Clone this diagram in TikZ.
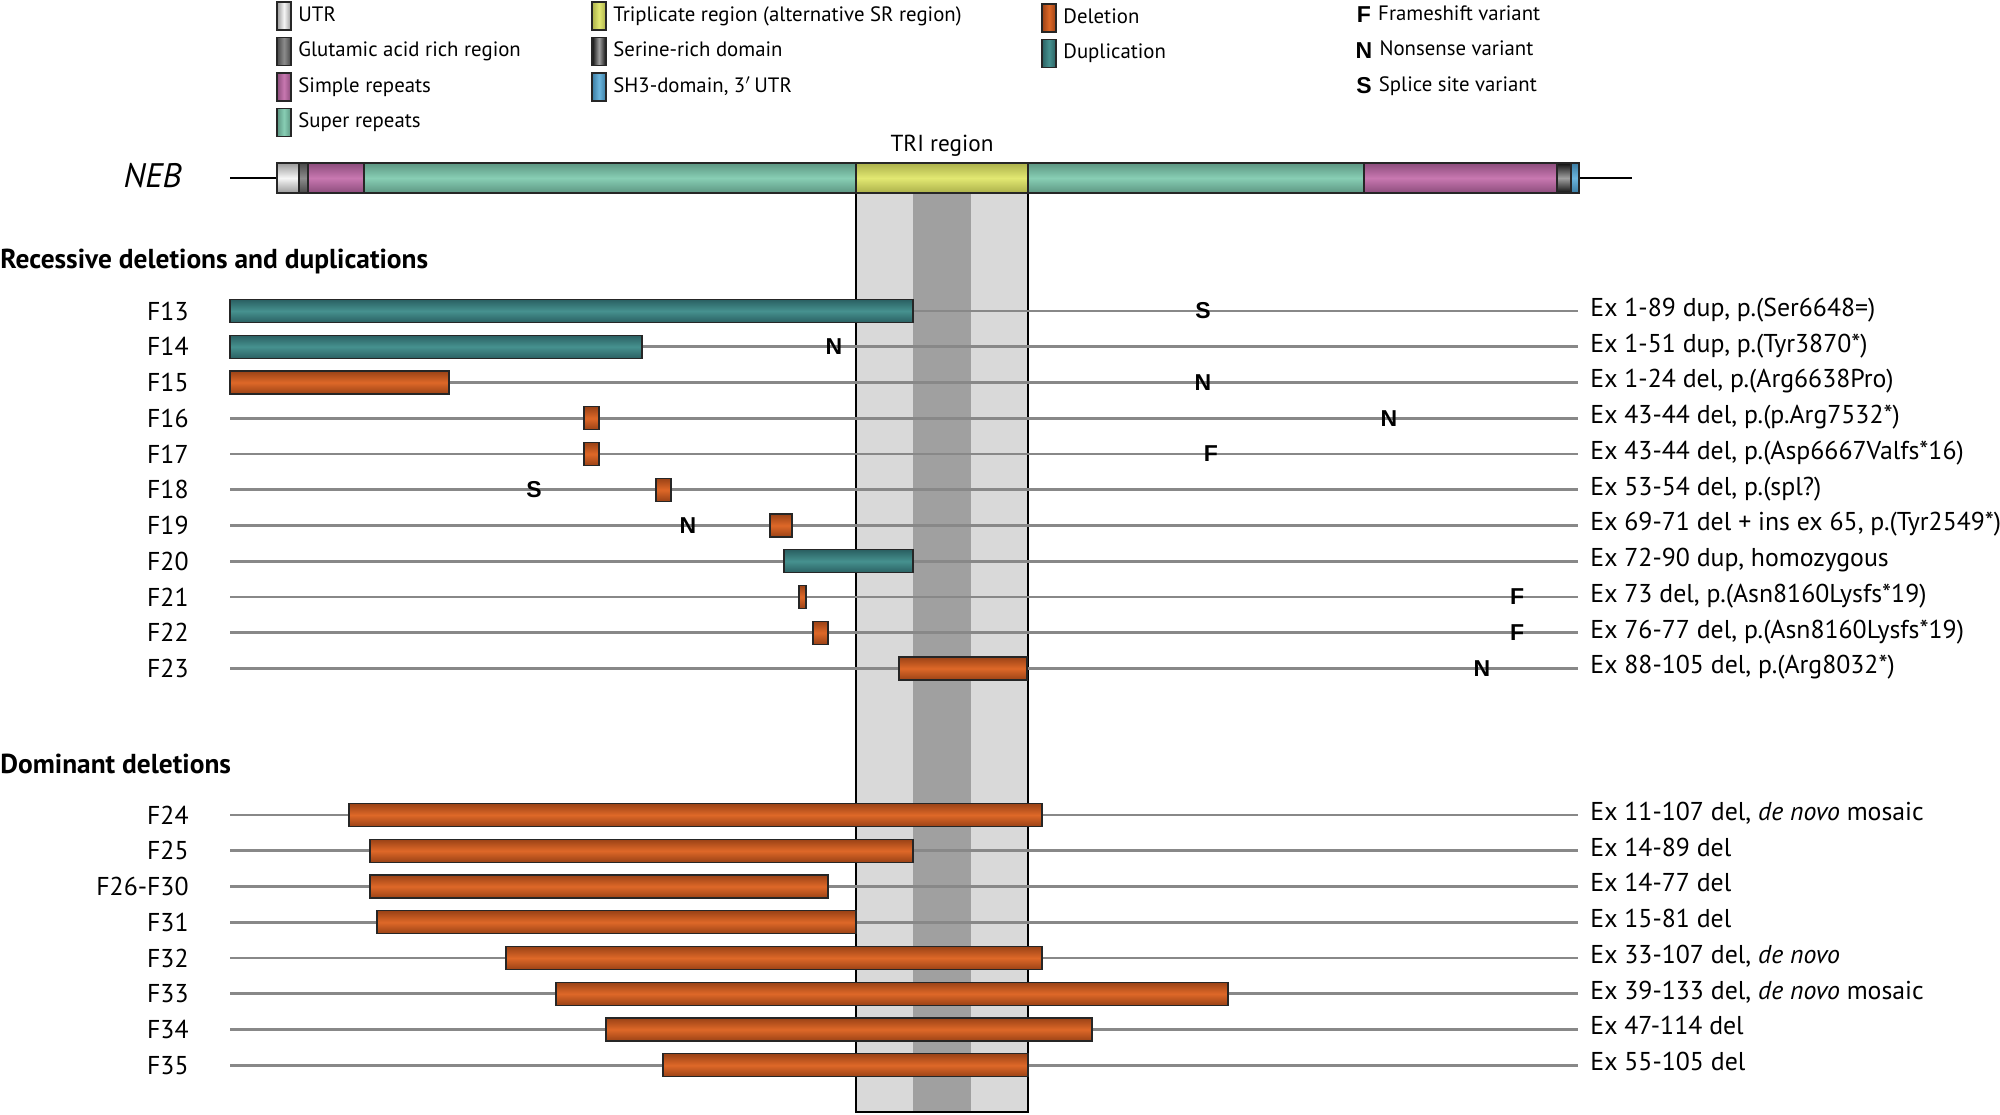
\documentclass[tikz,border=0pt]{standalone}
\usepackage{fontspec}
\setmainfont{PT Sans}
\newfontfamily\markfont{Liberation Sans}
\usetikzlibrary{positioning}

\definecolor{utrE}{HTML}{9A9A9A}\definecolor{utrM}{HTML}{F6F6F6}
\definecolor{gluE}{HTML}{484848}\definecolor{gluM}{HTML}{8C8C8C}
\definecolor{simE}{HTML}{8C4C7C}\definecolor{simM}{HTML}{C878B0}
\definecolor{supE}{HTML}{5C9682}\definecolor{supM}{HTML}{88CEB4}
\definecolor{triE}{HTML}{ABB04A}\definecolor{triM}{HTML}{E2E872}
\definecolor{serE}{HTML}{101010}\definecolor{serM}{HTML}{A0A0A0}
\definecolor{shdE}{HTML}{3A7CA2}\definecolor{shdM}{HTML}{6CB6DE}
\definecolor{delE}{HTML}{9A4216}\definecolor{delM}{HTML}{DE6828}
\definecolor{dupE}{HTML}{2A6062}\definecolor{dupM}{HTML}{46918F}
\definecolor{linegray}{HTML}{888888}
\definecolor{trilight}{HTML}{D9D9D9}
\definecolor{tridark}{HTML}{A0A0A0}

\tikzset{
  vshade/.style={top color=#1E, bottom color=#1E, middle color=#1M},
  hshade/.style={left color=#1E, right color=#1E, middle color=#1M},
  seg/.style={draw=black!85, line width=0.6pt},
  del/.style={seg, vshade=del},
  dup/.style={seg, vshade=dup},
  rowline/.style={draw=linegray, line width=1.3pt},
  rowlab/.style={anchor=east, inner sep=0pt, font=\fontsize{12.9}{14}\selectfont},
  rowtxt/.style={anchor=west, inner sep=0pt, text height=1.5ex, text depth=.45ex,
    font=\fontsize{12.9}{14}\selectfont},
  varmark/.style={inner sep=0pt, font=\markfont\bfseries\fontsize{11.5}{12}\selectfont},
  legbox/.style={draw=black!85, line width=0.6pt, minimum width=7pt, minimum height=14pt, inner sep=0pt},
  legtxt/.style={right=3.2pt of #1, inner sep=0pt, text height=1.5ex, text depth=.45ex,
    font=\fontsize{10.4}{12}\selectfont},
  header/.style={anchor=west, inner sep=0pt, font=\bfseries\fontsize{13.7}{15}\selectfont}
}

\begin{document}
\begin{tikzpicture}[x=0.5pt,y=-0.5pt]
\useasboundingbox (0,0) rectangle (2000,1114);

% legend
\node[legbox, hshade=utr] (kutr) at (284,16) {};
\node[legtxt=kutr] (lutr) {UTR};
\node[legbox, hshade=glu] (kglu) at (284,51.5) {};
\node[legtxt=kglu] (lglu) {Glutamic acid rich region};
\node[legbox, hshade=sim] (ksim) at (284,87) {};
\node[legtxt=ksim] (lsim) {Simple repeats};
\node[legbox, hshade=sup] (ksup) at (284,122.5) {};
\node[legtxt=ksup] (lsup) {Super repeats};
\node[legbox, hshade=tri] (ktri) at (599,16) {};
\node[legtxt=ktri] (ltri) {Triplicate region (alternative SR region)};
\node[legbox, hshade=ser] (kser) at (599,51.5) {};
\node[legtxt=kser] (lser) {Serine-rich domain};
\node[legbox, hshade=shd] (kshd) at (599,87) {};
\node[legtxt=kshd] (lshd) {SH3-domain, 3$'$\,UTR};
\node[legbox, hshade=del] (kdel) at (1049,18) {};
\node[legtxt=kdel] (ldel) {Deletion};
\node[legbox, hshade=dup] (kdup) at (1049,53.5) {};
\node[legtxt=kdup] (ldup) {Duplication};
\node[varmark] (kfs) at (1364,15) {F};
\node[legtxt=kfs] (lfs) {Frameshift variant};
\node[varmark] (kns) at (1364,50.5) {N};
\node[legtxt=kns] (lns) {Nonsense variant};
\node[varmark] (kss) at (1364,86) {S};
\node[legtxt=kss] (lss) {Splice site variant};

% TRI region column
\fill[trilight] (856,193) rectangle (1028,1112);
\fill[tridark] (913,193) rectangle (971,1112);
\draw[black, line width=0.8pt] (856,193) -- (856,1112) -- (1028,1112) -- (1028,193);
\node[font=\fontsize{11.6}{13}\selectfont] (trilab) at (942,146) {TRI region};

% gene
\node[anchor=east, inner sep=0pt, font=\itshape\fontsize{17}{20}\selectfont] (neb) at (182,176) {NEB};
\coordinate (g0) at (230,178);
\coordinate (g1) at (277,178);
\coordinate (g2) at (1579,178);
\coordinate (g3) at (1632,178);
\draw[black, line width=1pt] (g0) -- (g1) (g2) -- (g3);
\foreach \a/\b/\s in {277/299/utr, 299/308/glu, 308/364/sim, 364/856/sup, 856/1028/tri,
    1028/1364/sup, 1364/1557/sim, 1557/1571/ser, 1571/1579/shd}
  \draw[seg, vshade=\s] (\a,163) rectangle (\b,193);

% rows
\node[header] (rec) at (0,261) {Recessive deletions and duplications};
\node[header] (dom) at (0,764) {Dominant deletions};
\foreach \lab/\y/\txt [count=\i] in {
    F13/311/{Ex 1-89 dup, p.(Ser6648=)},
    F14/346.75/{Ex 1-51 dup, p.(Tyr3870*)},
    F15/382.5/{Ex 1-24 del, p.(Arg6638Pro)},
    F16/418.25/{Ex 43-44 del, p.(p.Arg7532*)},
    F17/454/{Ex 43-44 del, p.(Asp6667Valfs*16)},
    F18/489.75/{Ex 53-54 del, p.(spl?)},
    F19/525.5/{Ex 69-71 del + ins ex 65, p.(Tyr2549*)},
    F20/561.25/{Ex 72-90 dup, homozygous},
    F21/597/{Ex 73 del, p.(Asn8160Lysfs*19)},
    F22/632.75/{Ex 76-77 del, p.(Asn8160Lysfs*19)},
    F23/668.5/{Ex 88-105 del, p.(Arg8032*)},
    F24/815/{Ex 11-107 del, \emph{de novo} mosaic},
    F25/850.75/{Ex 14-89 del},
    F26-F30/886.5/{Ex 14-77 del},
    F31/922.25/{Ex 15-81 del},
    F32/958/{Ex 33-107 del, \emph{de novo}},
    F33/993.75/{Ex 39-133 del, \emph{de novo} mosaic},
    F34/1029.5/{Ex 47-114 del},
    F35/1065.25/{Ex 55-105 del}} {
  \node[rowlab] (lab\i) at (189,\y) {\lab};
  \coordinate (s\i) at (230,\y);
  \coordinate (e\i) at (1578,\y);
  \draw[rowline] (s\i) -- (e\i);
  \node[rowtxt] (txt\i) at (1590,\y) {\txt};
}

% deletions and duplications
\foreach \y/\a/\b/\k in {311/230/913/dup, 346.75/230/642/dup, 382.5/230/449/del,
    418.25/584/599/del, 454/584/599/del, 489.75/656/671/del, 525.5/770/792/del,
    561.25/784/913/dup, 597/799/806/del, 632.75/813/828/del, 668.5/899/1027/del,
    815/349/1042/del, 850.75/370/913/del, 886.5/370/828/del, 922.25/377/856/del,
    958/506/1042/del, 993.75/556/1228/del, 1029.5/606/1092/del, 1065.25/663/1028/del}
  \draw[\k] (\a,\y-11.5) rectangle (\b,\y+11.5);

% point variants
\foreach \y/\x/\v [count=\j] in {311/1203/S, 346.75/834/N, 382.5/1203/N, 418.25/1389/N,
    454/1211/F, 489.75/534/S, 525.5/688/N, 597/1517/F, 632.75/1517/F, 668.5/1482/N}
  \node[varmark] (v\j) at (\x,\y) {\v};
\end{tikzpicture}
\end{document}
